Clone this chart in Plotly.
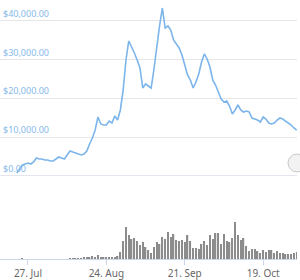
import pandas as pd
import plotly.graph_objects as go

start_date = "2020-07-23"
price = [700, 1730, 2760, 3020, 3280, 3020, 3540, 4570, 4320, 4320,
         4060, 4060, 3800, 3800, 4320, 4830, 4570, 4320, 5350, 6380,
         6120, 5870, 5610, 5350, 5610, 6380, 8190, 9740, 11810, 15170,
         13360, 13100, 13100, 14130, 13620, 15430, 14390, 16980, 22150, 29900,
         34810, 33000, 31710, 29900, 27830, 22660, 23700, 23180, 22660, 27570,
         33780, 38680, 43330, 38160, 38680, 37650, 35060, 34030, 33000, 31190,
         28870, 26020, 24730, 22660, 24210, 26280, 29380, 31450, 30160, 28090,
         24730, 23440, 21630, 19820, 19050, 19300, 18010, 15950, 16980, 18270,
         16980, 16460, 16720, 16460, 14910, 14650, 14390, 13880, 15170, 14650,
         13620, 13360, 13620, 14390, 14910, 14650, 14130, 13620, 13100, 12330,
         11810]
volume = ([0, 0, 0.5, 0, 0, 0, 0, 0, 0, 0, 0, 0, 0, 0, 0, 0, 0, 0, 0,
           0.7, 0.5, 0.5, 0.4, 0.6, 1.0] +
          [1.3, 2, 3, 2, 4, 2, 1, 1, 2, 2, 2, 3, 7, 18, 32, 24, 20, 21, 18,
           14, 17, 12, 9] +
          [6, 12, 17, 15, 22, 20, 27, 22, 25, 19, 18, 19, 17, 24, 18, 11, 11,
           10, 15, 18, 14, 24, 20, 26, 26, 15, 25, 18, 17, 21, 37, 24, 19, 21,
           13, 8, 10, 10, 8, 6, 9, 7, 9, 9, 6, 8, 6, 6, 5, 5, 5, 6, 7])
x_ticks = ["2020-07-27", "2020-08-24", "2020-09-21", "2020-10-19"]
x_tick_labels = ["27. Jul", "24. Aug", "21. Sep", "19. Oct"]
y_ticks = [0, 10000, 20000, 30000, 40000]
y_tick_labels = [f"${v:,.2f}" for v in y_ticks]

dates = [d.strftime("%Y-%m-%d") for d in pd.date_range(start_date, periods=len(price), freq="D")]

fig = go.Figure()
fig.add_trace(go.Scatter(x=dates, y=price, mode="lines",
                         line=dict(color="#7cb5ec", width=1.6),
                         xaxis="x", yaxis="y", hoverinfo="skip"))
fig.add_trace(go.Bar(x=dates, y=volume, marker=dict(color="#8c8c8c", line=dict(width=0)),
                     width=0.5 * 86400000, xaxis="x", yaxis="y2", hoverinfo="skip"))

xr = ["2020-07-17", "2020-10-31 02:24"]
yr = [0, 44880]
ydom = [0.3216, 0.9923]

fig.update_layout(
    width=300, height=280,
    margin=dict(l=0, r=3, t=0, b=21),
    paper_bgcolor="white", plot_bgcolor="white",
    showlegend=False,
    font=dict(family="Noto Sans"),
    xaxis=dict(type="date", anchor="y2", range=xr, tickmode="array",
               tickvals=x_ticks, ticktext=x_tick_labels,
               ticks="outside", ticklen=5, tickcolor="#ccd6eb", showline=True,
               linecolor="#ccd6eb", linewidth=1, showgrid=False, zeroline=False,
               tickfont=dict(size=10, color="#666666")),
    yaxis=dict(domain=ydom, range=yr, tickmode="array",
               tickvals=y_ticks, showticklabels=False,
               showgrid=True, gridcolor="#e6e6e6", zeroline=True,
               zerolinecolor="#e3e6ee", zerolinewidth=1, showline=False),
    yaxis2=dict(domain=[0, 0.1544], range=[0, 40], visible=False, showgrid=False),
)

for v, t in zip(y_ticks, y_tick_labels):
    fig.add_annotation(x=0, xref="paper", y=v, yref="y", text=t, showarrow=False,
                       xanchor="left", yanchor="bottom", xshift=1, yshift=-1,
                       font=dict(size=9, color="#86b9ea"))

fig.add_shape(type="circle", xref="paper", yref="paper",
              x0=288 / 297, x1=306 / 297, y0=(259 - 172) / 259, y1=(259 - 154) / 259,
              fillcolor="#f2f2f2", line=dict(color="#c8c8c8", width=1))

fig.write_html("out.html")
